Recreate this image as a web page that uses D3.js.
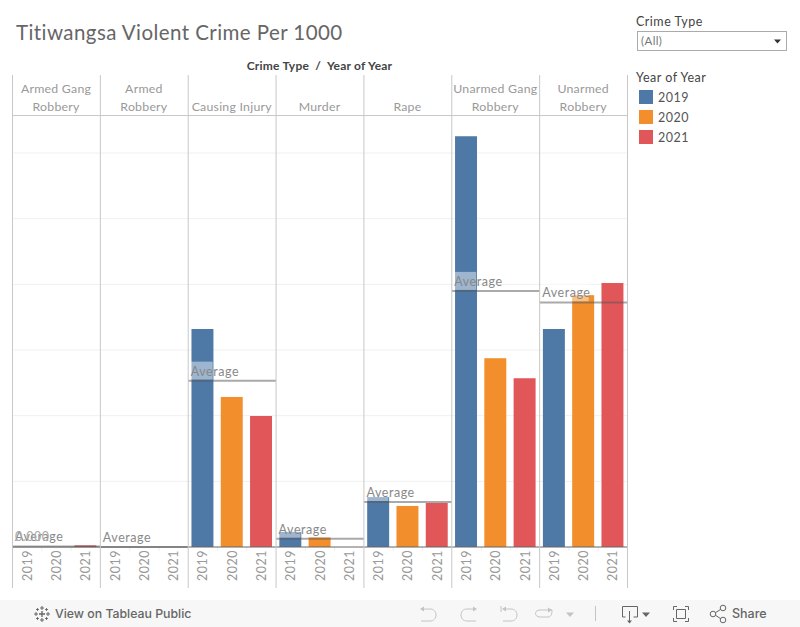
<!DOCTYPE html>
<html><head><meta charset="utf-8">
<script src="https://cdn.jsdelivr.net/npm/d3@7/dist/d3.min.js"></script>
<style>
html,body{margin:0;padding:0;background:#fff;overflow:hidden}
svg{display:block}
text{font-family:Lato,sans-serif}
</style></head><body>
<svg id="c" width="800" height="627"></svg>
<script>
const crimeTypes=["Armed Gang Robbery","Armed Robbery","Causing Injury","Murder","Rape","Unarmed Gang Robbery","Unarmed Robbery"];
const headerLines=[["Armed Gang","Robbery"],["Armed","Robbery"],["Causing Injury"],["Murder"],["Rape"],["Unarmed Gang","Robbery"],["Unarmed","Robbery"]];
const years=["2019","2020","2021"];
const yearColors=["#4e79a7","#f28e2b","#e15759"];
const values2019=[0.000,0.000,0.664,0.046,0.152,1.251,0.664];
const values2020=[0.000,0.000,0.457,0.029,0.125,0.575,0.767];
const values2021=[0.005,0.000,0.399,0.000,0.134,0.514,0.804];
const gridTicks=[0,0.2,0.4,0.6,0.8,1.0,1.2];

const svg=d3.select("#c");
const x0=d3.scaleBand().domain(crimeTypes).range([12.5,627.5]);
const xYear=d3.scaleBand().domain(years).range([0,x0.bandwidth()]).paddingInner(0.25).paddingOuter(0.125);
const y=d3.scaleLinear().domain([0,1.2]).range([547,153]);
const yearColor=d3.scaleOrdinal(years,yearColors);
const series=[values2019,values2020,values2021];
const line="#c8c8c8";

svg.append("text").attr("x",16).attr("y",40).attr("font-size",20.5).attr("fill","#666").attr("letter-spacing",0.43).text("Titiwangsa Violent Crime Per 1000");
svg.append("text").attr("x",319.5).attr("y",70).attr("text-anchor","middle").attr("font-size",12).attr("font-weight",700).attr("fill","#444").attr("letter-spacing",0.22).attr("xml:space","preserve").text("Crime Type  /  Year of Year");

svg.append("g").selectAll("line").data(gridTicks.filter(d=>d>0)).join("line")
 .attr("x1",12.5).attr("x2",627.5).attr("y1",d=>y(d)).attr("y2",d=>y(d)).attr("stroke","#f0f0f0");

crimeTypes.forEach((c,i)=>{
  const g=svg.append("g");
  const rows=years.map((yr,k)=>({yr,v:series[k][i]}));
  g.selectAll("rect").data(rows.filter(d=>d.v>0)).join("rect")
   .attr("x",d=>x0(c)+xYear(d.yr)-0.4).attr("width",xYear.bandwidth())
   .attr("y",d=>y(d.v)).attr("height",d=>y(0)-y(d.v)).attr("fill",d=>yearColor(d.yr));
  g.selectAll("text.yr").data(years).join("text").attr("class","yr")
   .attr("transform",d=>`translate(${x0(c)+xYear(d)+xYear.bandwidth()/2+4.5},581) rotate(-90)`)
   .attr("font-size",12.5).attr("fill","#999").attr("letter-spacing",0.5).text(d=>d);
  g.selectAll("line.t").data(years.slice(1)).join("line").attr("class","t")
   .attr("x1",d=>x0(c)+xYear(d)-xYear.step()*xYear.paddingInner()/2).attr("x2",d=>x0(c)+xYear(d)-xYear.step()*xYear.paddingInner()/2)
   .attr("y1",547).attr("y2",551).attr("stroke","#eee");
});

svg.append("line").attr("x1",12.5).attr("x2",627.5).attr("y1",y(0)).attr("y2",y(0)).attr("stroke","#666").attr("stroke-width",1);

crimeTypes.forEach((c,i)=>{
  const avg=d3.mean(series,s=>s[i]);
  const yy=y(avg);
  const g=svg.append("g");
  g.append("rect").attr("x",x0(c)+2).attr("y",yy-19).attr("width",i===6?47:xYear.bandwidth()+0.5).attr("height",18).attr("fill","#fff").attr("fill-opacity",0.45);
  g.append("line").attr("x1",x0(c)).attr("x2",x0(c)+x0.bandwidth()).attr("y1",yy).attr("y2",yy).attr("stroke","#555").attr("stroke-opacity",0.5).attr("stroke-width",2);
  g.append("text").attr("x",x0(c)+2.5).attr("y",yy-5).attr("font-size",12.5).attr("fill","#888").attr("letter-spacing",0.55).text("Average");
});
svg.append("text").attr("x",15).attr("y",541).attr("font-size",12.5).attr("fill","#aaa").attr("letter-spacing",0.5).text("0.000");

svg.append("g").selectAll("line").data(crimeTypes.concat(["end"])).join("line")
 .attr("x1",d=>d==="end"?627.5:x0(d)).attr("x2",d=>d==="end"?627.5:x0(d)).attr("y1",75).attr("y2",588).attr("stroke",line);
svg.append("line").attr("x1",12.5).attr("x2",627.5).attr("y1",115.5).attr("y2",115.5).attr("stroke",line);

crimeTypes.forEach((c,i)=>{
  const ls=headerLines[i];
  ls.forEach((t,j)=>{
    svg.append("text").attr("x",x0(c)+x0.bandwidth()/2-0.4).attr("y",111-(ls.length-1-j)*18)
     .attr("text-anchor","middle").attr("font-size",12.3).attr("fill","#999").attr("letter-spacing",0.25).text(t);
  });
});

svg.append("text").attr("x",636).attr("y",26).attr("font-size",12.5).attr("fill","#444").attr("letter-spacing",0.5).text("Crime Type");
svg.append("rect").attr("x",637.5).attr("y",31.5).attr("width",149).attr("height",19).attr("fill","#fff").attr("stroke","#aaa");
svg.append("text").attr("x",641).attr("y",45).attr("font-size",11.5).attr("fill","#777").attr("letter-spacing",0.4).text("(All)");
svg.append("path").attr("d","M774 39.5h7l-3.5 4z").attr("fill","#333");

svg.append("text").attr("x",636).attr("y",82).attr("font-size",12.5).attr("fill","#444").attr("letter-spacing",0.5).text("Year of Year");
const lg=svg.append("g").selectAll("g").data(years).join("g").attr("transform",(d,i)=>`translate(639,${90+i*20})`);
lg.append("rect").attr("width",14).attr("height",14).attr("fill",d=>yearColor(d));
lg.append("text").attr("x",19).attr("y",12).attr("font-size",12.5).attr("fill","#555").attr("letter-spacing",0.5).text(d=>d);

// toolbar
svg.append("rect").attr("x",0).attr("y",600).attr("width",800).attr("height",27).attr("fill","#f7f7f7");
svg.append("text").attr("x",55).attr("y",618).attr("font-size",12.3).attr("font-weight",500).attr("fill","#666").attr("style","font-family:Inter").text("View on Tableau Public");
svg.append("text").attr("x",732).attr("y",618).attr("font-size",12.5).attr("font-weight",500).attr("fill","#666").attr("style","font-family:Inter").text("Share");

// tableau logo
const plus=(cx,cy,r,w)=>svg.append("path").attr("d",`M${cx-r} ${cy}H${cx+r}M${cx} ${cy-r}V${cy+r}`).attr("stroke","#666").attr("stroke-width",w).attr("fill","none");
plus(42,614,3,1.3);
[[42,608],[42,620],[36,614],[48,614]].forEach(p=>plus(p[0],p[1],2,1));
[[37.5,609.5],[46.5,609.5],[37.5,618.5],[46.5,618.5]].forEach(p=>plus(p[0],p[1],1.5,0.9));

const ic=(d,c)=>svg.append("path").attr("d",d).attr("fill","none").attr("stroke",c).attr("stroke-width",1);
const dis="#c4c4c4", on="#666";
ic("M421 609H430C438 609 438 621 430 621H421",dis);
svg.append("path").attr("d","M420 609l4-2.5v5z").attr("fill",dis);
ic("M476 609H467C459 609 459 621 467 621H476",dis);
svg.append("path").attr("d","M477 609l-4-2.5v5z").attr("fill",dis);
ic("M501 606V612M503 609H511C519 609 519 621 511 621H503",dis);
svg.append("path").attr("d","M502 609l4-2.5v5z").attr("fill",dis);
ic("M552 610H540C534 610 534 617 540 617H548C552 617 552 612 552 610",dis);
svg.append("path").attr("d","M552 610l-4-2.5v5z").attr("fill",dis);
svg.append("path").attr("d","M566 612.5h8l-4 4.5z").attr("fill",dis);
ic("M595.5 606V621",dis);
ic("M625.5 617H622.5V606.5H637.5V617H633.5M629.5 611V621",on);
svg.append("path").attr("d","M627 620.5h5l-2.5 3z").attr("fill",on);
svg.append("path").attr("d","M642 612.5h8l-4 4.5z").attr("fill",on);
ic("M673.5 610V606.5H677M685 606.5H688.5V610M688.5 618V621.5H685M677 621.5H673.5V618",on);
ic("M676.5 609.5H685.5V618.5H676.5Z",on);
svg.append("g").selectAll("circle").data([[723,608],[713,614],[723,620]]).join("circle")
 .attr("cx",d=>d[0]).attr("cy",d=>d[1]).attr("r",2.8).attr("fill","none").attr("stroke",on);
ic("M715.5 612.7L720.6 609.4M715.5 615.3L720.6 618.6",on);
</script>
</body></html>
